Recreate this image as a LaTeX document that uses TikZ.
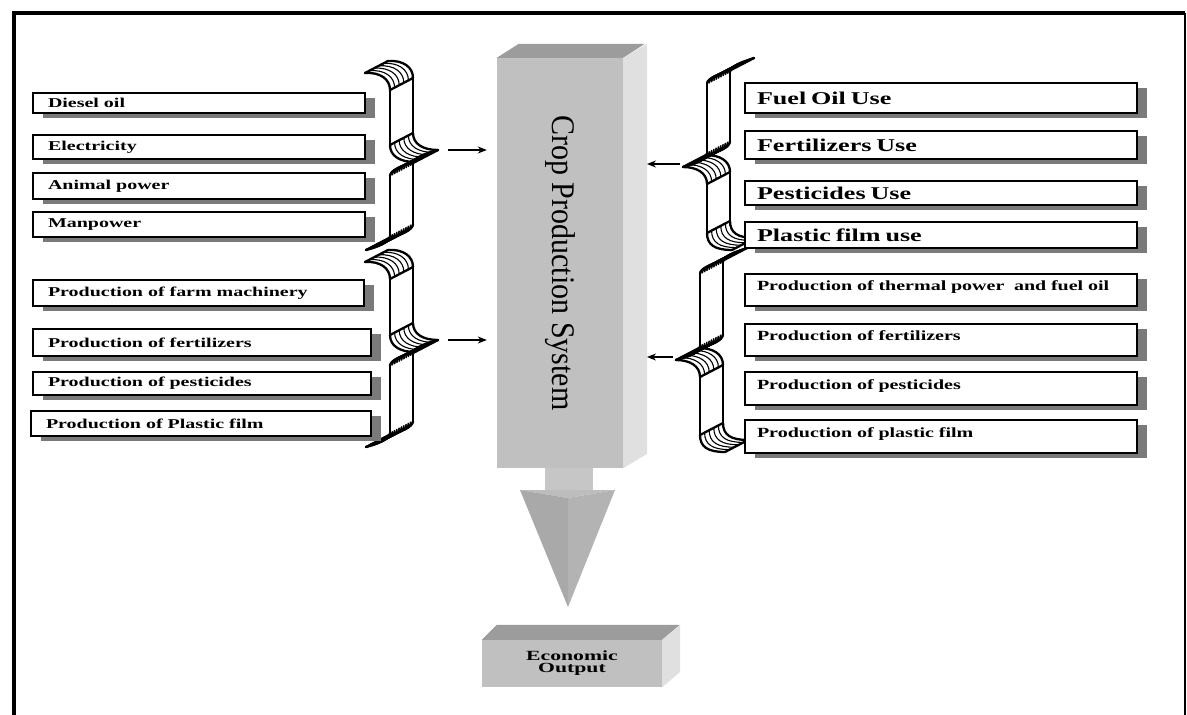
\documentclass[tikz,border=0pt]{standalone}
\usepackage{fontspec}
\setmainfont{Liberation Serif}
\usepackage{graphicx}
\usetikzlibrary{arrows.meta,shadows}

\definecolor{colfront}{HTML}{C0C0C0}
\definecolor{coltop}{HTML}{9C9C9C}
\definecolor{colside}{HTML}{E0E0E0}
\definecolor{stemc}{HTML}{C6C6C6}
\definecolor{headl}{HTML}{A9A9A9}
\definecolor{headr}{HTML}{B3B3B3}
\definecolor{headt}{HTML}{BDBDBD}

\tikzset{
  ribedge/.style={line width=2.3pt, line cap=round, line join=round},
  hatchln/.style={line width=1.1pt},
  darkln/.style={line width=1.6pt, line cap=round},
  lbox/.style={draw=black, line width=1.3pt, fill=white, inner ysep=0pt, align=left,
    drop shadow={shadow xshift=10pt, shadow yshift=-5pt, fill=black!52, opacity=1}},
  lboxL/.style={lbox, inner xsep=15pt},
  lboxR/.style={lbox, inner xsep=12pt, text width=368pt},
  lboxRup/.style={lboxR, text depth=8pt},
  arr/.style={-{Stealth[length=9pt,width=7pt]}, line width=1.2pt},
}

\newcommand\stxt[1]{\scalebox{1.48}[1]{\fontsize{13.5}{15}\selectfont\bfseries #1}}
\newcommand\btxt[1]{\scalebox{1.45}[1]{\fontsize{18}{20}\selectfont\bfseries #1}}
\newcommand\rtxt[1]{\scalebox{1.43}[1]{\fontsize{14}{16}\selectfont\bfseries #1}}
\newcommand\etxt[1]{\scalebox{1.55}[1]{\fontsize{14}{16}\selectfont\bfseries #1}}

% ribbon helpers (extrusion vector (23,-12))
\newcommand\hatchedpiece[1]{%
  \foreach \hk in {1,...,4}{\draw[hatchln, shift={(\hk*4.6,-\hk*2.4)}] #1;}%
  \draw[ribedge] #1; \draw[ribedge, shift={(23,-12)}] #1;}
\newcommand\darkpiece[1]{%
  \foreach \hk in {0,...,10}{\draw[darkln, shift={(\hk*2.3,-\hk*1.2)}] #1;}%
  \draw[ribedge] #1; \draw[ribedge, shift={(23,-12)}] #1;}
\newcommand\plainpiece[1]{\draw[ribedge] #1; \draw[ribedge, shift={(23,-12)}] #1;}
\newcommand\crossln[1]{\draw[ribedge] #1 -- ++(23,-12);}

% "}" brace: xv, yt, ym, yb, name of arrow start
\newcommand\closebrace[5]{%
  \pgfmathsetmacro\bta{#1-25}\pgfmathsetmacro\btb{#1-24}\pgfmathsetmacro\btm{#1+25}%
  \pgfmathsetmacro\bya{#2+17}\pgfmathsetmacro\byb{#3-17}%
  \pgfmathsetmacro\byc{#3+14}\pgfmathsetmacro\byd{#4-14}%
  \darkpiece{(\btm,#3) .. controls (#1+13,#3+3) and (#1,#3+8) .. (#1,\byc)}
  \darkpiece{(#1,\byd) .. controls (#1,#4-8) and (#1-12,#4-3) .. (\btb,#4)}
  \hatchedpiece{(\bta,#2) .. controls (#1-10,#2-1) and (#1,#2+6) .. (#1,\bya)}
  \hatchedpiece{(#1,\byb) .. controls (#1,#3-6) and (#1+10,#3) .. (\btm,#3)}
  \plainpiece{(#1,\bya) -- (#1,\byb)}
  \plainpiece{(#1,\byc) -- (#1,\byd)}
  \crossln{(\bta,#2)}\crossln{(#1,\bya)}\crossln{(#1,\byb)}\crossln{(\btm,#3)}\crossln{(\btb,#4)}
  \coordinate (#5) at (\btm+23,#3-12);
}
% "{" brace: xv, yt, ym, yb, name of arrow start
\newcommand\openbrace[5]{%
  \pgfmathsetmacro\bta{#1+24}\pgfmathsetmacro\btb{#1+25}\pgfmathsetmacro\btm{#1-24}%
  \pgfmathsetmacro\bya{#2+14}\pgfmathsetmacro\byb{#3-14}%
  \pgfmathsetmacro\byc{#3+17}\pgfmathsetmacro\byd{#4-17}%
  \darkpiece{(\bta,#2) .. controls (#1+12,#2+4) and (#1,#2+8) .. (#1,\bya)}
  \darkpiece{(#1,\byb) .. controls (#1,#3-7) and (#1-12,#3-3) .. (\btm,#3)}
  \hatchedpiece{(\btm,#3) .. controls (#1-10,#3) and (#1,#3+6) .. (#1,\byc)}
  \hatchedpiece{(#1,\byd) .. controls (#1,#4-5) and (#1+8,#4) .. (\btb,#4)}
  \plainpiece{(#1,\bya) -- (#1,\byb)}
  \plainpiece{(#1,\byc) -- (#1,\byd)}
  \crossln{(\bta,#2)}\crossln{(#1,\byc)}\crossln{(#1,\byd)}\crossln{(\btm,#3)}\crossln{(\btb,#4)}
  \coordinate (#5) at (\btm,#3-3);
}

\begin{document}
\begin{tikzpicture}[x=1pt,y=-1pt]
\useasboundingbox (0,0) rectangle (1187,715);
\fill[white] (0,0) rectangle (1187,715);

% frame
\draw[line width=4pt] (13.5,715) -- (13.5,12.5) -- (1185,12.5);
\draw[line width=1.2pt] (1185,12.5) -- (1185,715);

% central column
\node[fill=colfront, minimum width=126pt, minimum height=410pt, inner sep=0pt] (col) at (560,263)
  {\rotatebox{-90}{\scalebox{1}[1.1]{\fontsize{30}{30}\selectfont Crop Production System}}};
\fill[coltop] (col.north west) -- ++(22,-14) -- ++(126,0) -- (col.north east) -- cycle;
\fill[colside] (col.north east) -- ++(24,-14) -- ++(0,410) -- (col.south east) -- cycle;
\coordinate (colR) at (647,263);

% downward arrow
\fill[stemc] (545,468) rectangle (593,491);
\fill[headt] (520,490) -- (568,498) -- (615,490) -- cycle;
\fill[headl] (520,490) -- (568,498) -- (568,607) -- cycle;
\fill[headr] (568,498) -- (615,490) -- (568,607) -- cycle;

% economic output box
\node[fill=colfront, minimum width=180pt, minimum height=47pt, inner sep=0pt, align=center] (econ) at (572,663.5)
  {\etxt{Economic}\\[0pt]\etxt{Output}};
\fill[coltop] (econ.north west) -- ++(15,-15) -- ++(183,0) -- (econ.north east) -- cycle;
\fill[colside] (econ.north east) -- ++(18,-15) -- ++(0,47) -- (econ.south east) -- cycle;

% braces
\closebrace{390}{73}{162}{250}{lb1}
\closebrace{390}{262}{352}{447}{lb2}
\openbrace{707}{70}{167}{250}{rb1}
\openbrace{700}{260}{360}{452}{rb2}

% arrows
\draw[arr, shorten <=10pt, shorten >=10pt] (lb1) -- (lb1 -| col.west);
\draw[arr, shorten <=10pt, shorten >=10pt] (lb2) -- (lb2 -| col.west);
\draw[arr, shorten <=3pt] (rb1) -- (rb1 -| colR);
\draw[arr, shorten <=3pt] (rb2) -- (rb2 -| colR);

% left boxes
\node[lboxL, text width=302pt, minimum height=20pt] (l1) at (199,103) {\stxt{Diesel oil}};
\node[lboxL, text width=302pt, minimum height=24pt] (l2) at (199,147) {\stxt{Electricity}};
\node[lboxL, text width=302pt, minimum height=26pt] (l3) at (199,186) {\stxt{Animal power}};
\node[lboxL, text width=302pt, minimum height=25pt] (l4) at (199,224.5) {\stxt{Manpower}};
\node[lboxL, text width=301pt, minimum height=26pt] (l5) at (198.5,293) {\stxt{Production of farm machinery}};
\node[lboxL, text width=308pt, minimum height=27pt] (l6) at (202,342.5) {\stxt{Production of fertilizers}};
\node[lboxL, text width=308pt, minimum height=23pt] (l7) at (202,383.5) {\stxt{Production of pesticides}};
\node[lboxL, text width=310pt, minimum height=25pt] (l8) at (201,423.5) {\stxt{Production of Plastic film}};

% right boxes
\node[lboxR, minimum height=30pt] (r1) at (941,98) {\btxt{Fuel Oil Use}};
\node[lboxR, minimum height=28pt] (r2) at (941,145) {\btxt{Fertilizers Use}};
\node[lboxR, minimum height=24pt] (r3) at (941,193) {\btxt{Pesticides Use}};
\node[lboxR, minimum height=26pt] (r4) at (941,235) {\btxt{Plastic film use}};
\node[lboxRup, minimum height=32pt] (r5) at (941,290) {\rtxt{Production of thermal power~ and fuel oil}};
\node[lboxRup, minimum height=32pt] (r6) at (941,340) {\rtxt{Production of fertilizers}};
\node[lboxRup, minimum height=33pt] (r7) at (941,388.5) {\rtxt{Production of pesticides}};
\node[lboxRup, minimum height=33pt] (r8) at (941,436.5) {\rtxt{Production of plastic film}};
\end{tikzpicture}
\end{document}
